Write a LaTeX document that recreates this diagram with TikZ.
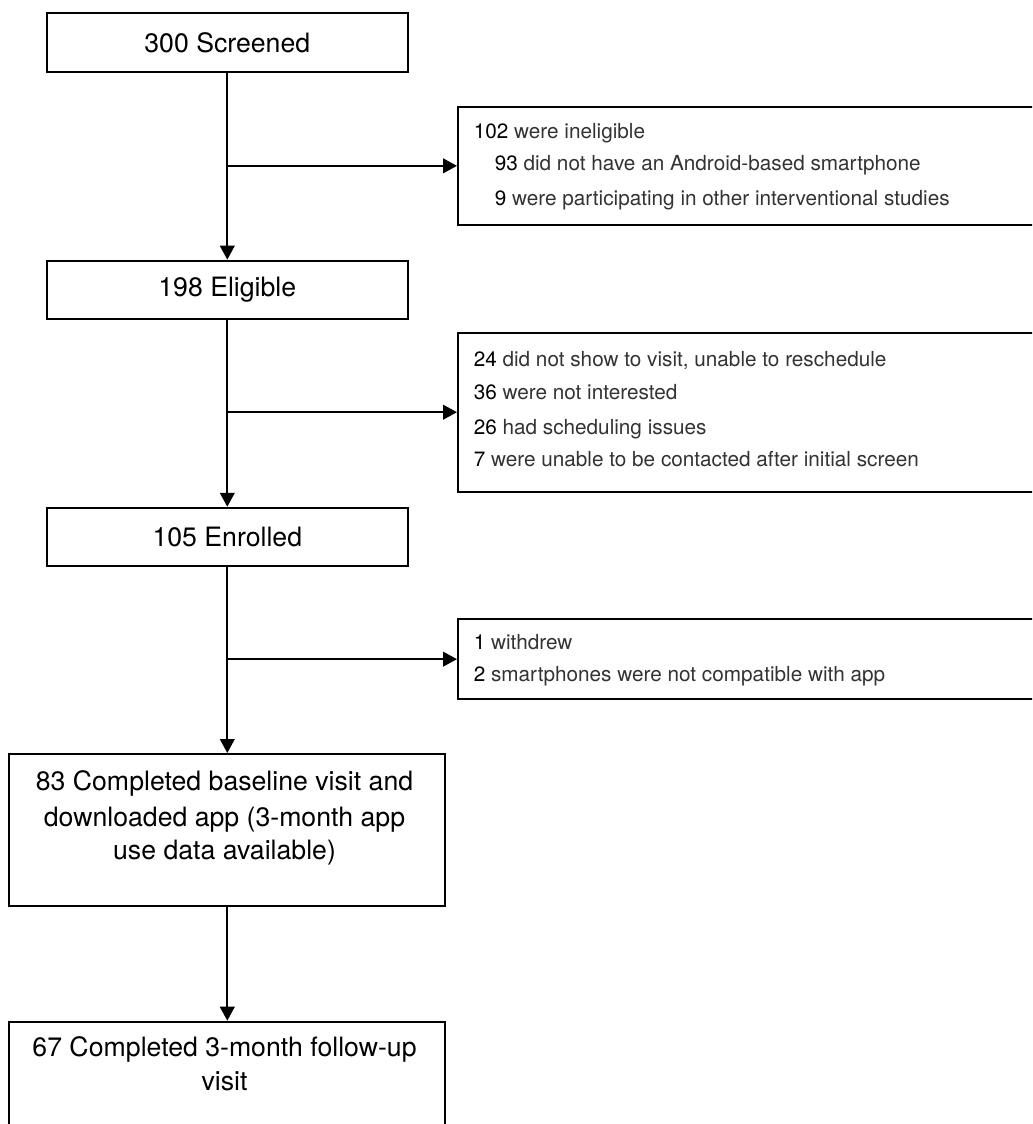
\documentclass[tikz,border=0pt]{standalone}
\usepackage{fontspec}
\setmainfont{TeX Gyre Heros}
\usetikzlibrary{arrows.meta}
\newcommand\cnt[1]{\textcolor{black}{#1}}
\begin{document}
\begin{tikzpicture}[x=0.75pt,y=-0.75pt,
  box/.style={draw=black, line width=1.5pt, rectangle, inner sep=0pt, fill=white},
  mainbox/.style={box, font=\fontsize{20}{25.5}\selectfont},
  maintxt/.style={inner sep=0pt, anchor=base, font=\fontsize{20}{25.5}\selectfont},
  sidetxt/.style={inner sep=0pt, anchor=base west, font=\fontsize{15.55}{24}\selectfont, text=black!80},
  flow/.style={line width=1.5pt, -{Triangle[length=10.5pt,width=11pt]}},
]
\useasboundingbox (0,0) rectangle (1032,1124);
\clip (0,0) rectangle (1032,1124);

% main column
\node[mainbox, minimum width=361*0.75pt, minimum height=58.4*0.75pt] (b1) at (227.3,42.5) {300 Screened};
\node[mainbox, minimum width=361*0.75pt, minimum height=58.3*0.75pt] (b2) at (227.3,289.8) {198 Eligible};
\node[mainbox, minimum width=361*0.75pt, minimum height=58.3*0.75pt] (b3) at (227.3,536.9) {105 Enrolled};
\node[box, minimum width=436*0.75pt, minimum height=151.7*0.75pt] (b4) at (227.3,829.85) {};
\node[box, minimum width=436*0.75pt, minimum height=160*0.75pt] (b5) at (227.3,1101.7) {};

\node[maintxt] (b4a) at (224.5,790.7) {83 Completed baseline visit and};
\node[maintxt] (b4b) at (224.5,826.7) {downloaded app (3-month app};
\node[maintxt] (b4c) at (224.5,859) {use data available)};
\node[maintxt] (b5a) at (224.5,1056.7) {67 Completed 3-month follow-up};
\node[maintxt] (b5b) at (224.5,1090.7) {visit};

% side boxes
\node[box, minimum width=604*0.75pt, minimum height=118.3*0.75pt] (rb1) at (760,165.85) {};
\node[box, minimum width=604*0.75pt, minimum height=159*0.75pt] (rb2) at (760,412.2) {};
\node[box, minimum width=604*0.75pt, minimum height=79.7*0.75pt] (rb3) at (760,659.15) {};

\node[sidetxt] (r1a) at (473.5,138.3) {\cnt{102} were ineligible};
\node[sidetxt] (r1b) at (494.5,170) {\cnt{93} did not have an Android-based smartphone};
\node[sidetxt] (r1c) at (494.5,205) {\cnt{9} were participating in other interventional studies};

\node[sidetxt] (r2a) at (473.5,366) {\cnt{24} did not show to visit, unable to reschedule};
\node[sidetxt] (r2b) at (473.5,399.3) {\cnt{36} were not interested};
\node[sidetxt] (r2c) at (473.5,434.3) {\cnt{26} had scheduling issues};
\node[sidetxt] (r2d) at (473.5,466.7) {\cnt{7} were unable to be contacted after initial screen};

\node[sidetxt] (r3a) at (473.5,649.3) {\cnt{1} withdrew};
\node[sidetxt] (r3b) at (473.5,681) {\cnt{2} smartphones were not compatible with app};

% connectors
\draw[flow] (b1.south) -- (b2.north);
\draw[flow] (b2.south) -- (b3.north);
\draw[flow] (b3.south) -- (b4.north);
\draw[flow] (b4.south) -- (b5.north);
\draw[flow] (b1.south |- rb1.west) -- (rb1.west);
\draw[flow] (b2.south |- rb2.west) -- (rb2.west);
\draw[flow] (b3.south |- rb3.west) -- (rb3.west);
\end{tikzpicture}
\end{document}
